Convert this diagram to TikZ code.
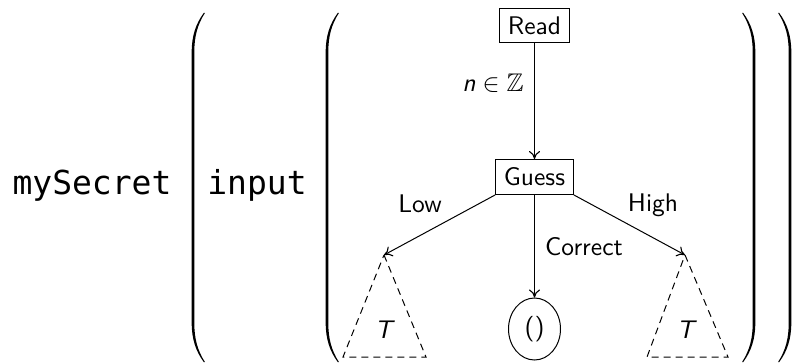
\documentclass[tikz,border=0pt]{standalone}
\usepackage{fontspec}
\usepackage{amssymb}
\usepackage{graphicx}
\usetikzlibrary{arrows.meta,shapes.geometric}
\newfontfamily\codefnt{DejaVu Sans Mono}
\newcommand\bigt[1]{\scalebox{2.55}{#1}}
\newcommand\parenpath{%
  \fill (12,13) .. controls (4,24) and (0,36) .. (0,52) -- (0,323) .. controls (0,339) and (4,351) .. (12,362)
    -- (13.2,362) .. controls (5.5,350) and (2.6,338) .. (2.6,323) -- (2.6,52) .. controls (2.6,37) and (5.5,25) .. (13.2,13) -- cycle;}
\begin{document}
\begin{tikzpicture}[x=1pt,y=-1pt,
  box/.style={draw, line width=1pt, inner sep=8.3pt, font=\sffamily},
  unitnode/.style={ellipse, draw, line width=1pt, minimum width=52pt, minimum height=62pt, inner sep=0pt, font=\sffamily},
  lab/.style={font=\sffamily, inner sep=0pt, anchor=base},
  code/.style={font=\fontsize{33}{40}\codefnt, inner sep=0pt, anchor=base},
  conn/.style={line width=1pt, -{Computer Modern Rightarrow[length=8pt,width=11pt,line width=1.1pt]}},
  tri/.style={line width=1pt, dash pattern=on 7pt off 5pt}]
\useasboundingbox (0,0) rectangle (792,363);
% code words
\node[code] (sec) at (92,195) {mySecret};
\node[code] (inp) at (257,195) {input};
% parentheses
\begin{scope}[xshift=191.7pt]\parenpath\end{scope}
\begin{scope}[xshift=325.7pt]\parenpath\end{scope}
\begin{scope}[xshift=755.3pt,xscale=-1]\parenpath\end{scope}
\begin{scope}[xshift=791.3pt,xscale=-1]\parenpath\end{scope}
% tree
\node[box] (read) at (534.5,25.5) {\bigt{Read}};
\node[box] (guess) at (534.5,177) {\bigt{Guess}};
\node[unitnode] (unit) at (534.5,329) {\bigt{()}};
\coordinate (lt) at (384,255);
\coordinate (ltr) at (426,357);
\coordinate (ltl) at (343,357);
\coordinate (rt) at (685,255);
\coordinate (rtr) at (728,357);
\coordinate (rtl) at (647,357);
\draw[tri] (lt) -- (ltr) -- (ltl) -- cycle;
\draw[tri] (rt) -- (rtr) -- (rtl) -- cycle;
\node[lab] (tleft) at (385,338) {\bigt{\textit{T}}};
\node[lab] (tright) at (687,338) {\bigt{\textit{T}}};
\draw[conn] (read) -- (guess);
\draw[conn] (guess.south west) -- (lt);
\draw[conn] (guess) -- (unit);
\draw[conn] (guess.south east) -- (rt);
\node[lab] (nlab) at (493,92) {\bigt{$\textit{n}\in\mathbb{Z}$}};
\node[lab] (low) at (420,213) {\bigt{Low}};
\node[lab] (high) at (653,212) {\bigt{High}};
\node[lab] (corr) at (584,256) {\bigt{Correct}};
\end{tikzpicture}
\end{document}
